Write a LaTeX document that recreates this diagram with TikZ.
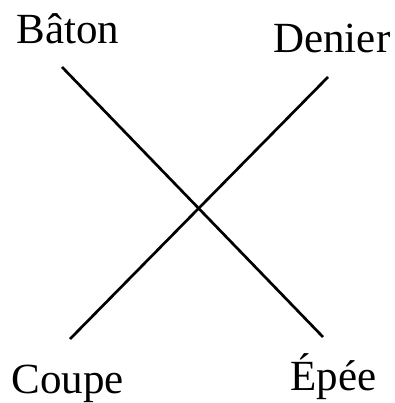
\documentclass[tikz,border=0pt]{standalone}
\usepackage{fontspec}
\setmainfont{Liberation Serif}
\usetikzlibrary{positioning}

\begin{document}
\begin{tikzpicture}[x=1pt, y=-1pt, line width=2.7pt,
		suit/.style={anchor=base west, inner sep=0pt, font=\fontsize{43}{50}\selectfont}]
			\useasboundingbox (0,0) rectangle (394,403);
			% the four suits
			\node[suit] (baton) at (15,44) {Bâton};
			\node[suit] (denier) at (272,53) {Denier};
			\node[suit] (coupe) at (10,393) {Coupe};
			\node[suit] (epee) at (289,390) {Épée};
			% ends of the two strokes
			\coordinate (bt) at (62,67);
			\coordinate (ep) at (323,337);
			\coordinate (cp) at (70,339);
			\coordinate (dn) at (328,77);
			\draw (bt) -- (ep);
			\draw (cp) -- (dn);
		\end{tikzpicture}
\end{document}
